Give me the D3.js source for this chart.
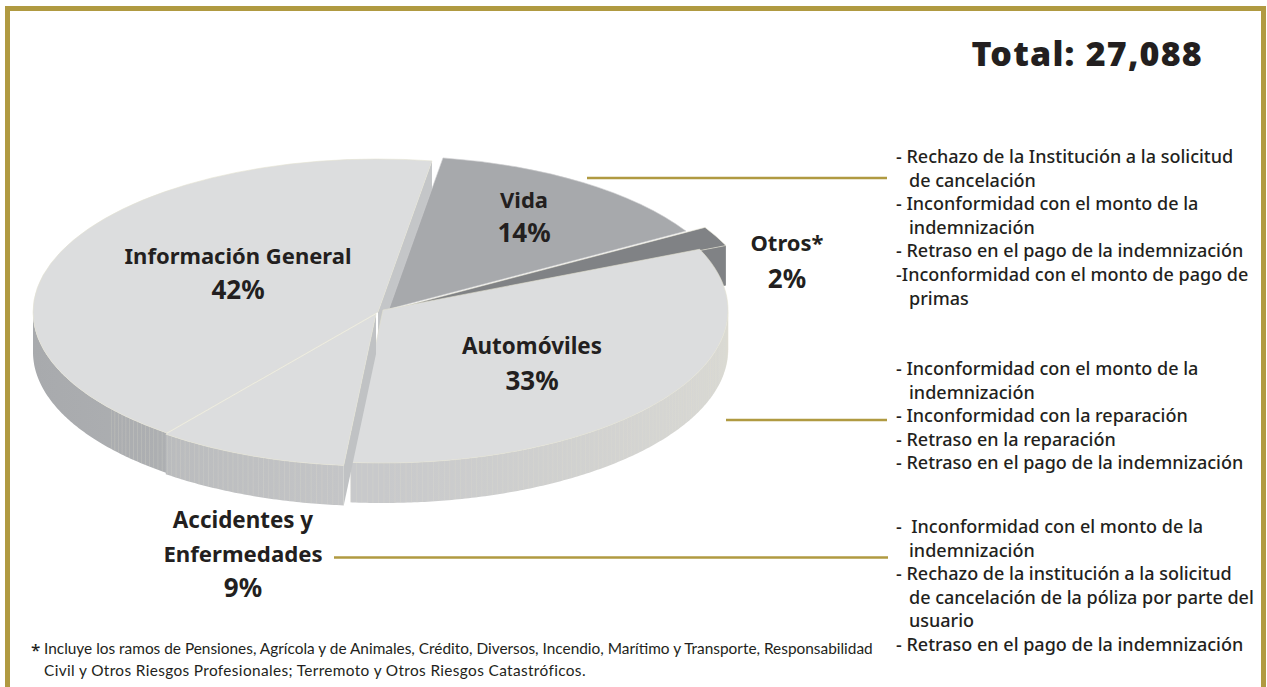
<!DOCTYPE html>
<html>
<head>
<meta charset="utf-8">
<script src="https://cdn.jsdelivr.net/npm/d3@7"></script>
<style>
html, body { margin: 0; padding: 0; background: #fff; overflow: hidden; }
svg { display: block; }
text { font-family: "Noto Sans", Lato, sans-serif; fill: #231f20; white-space: pre; }
</style>
</head>
<body>
<svg id="chart" width="1267" height="687"></svg>
<script>
// values, in drawing order round the pie
const categories = ['Información General', 'Vida', 'Otros*', 'Automóviles', 'Accidentes y Enfermedades'];
const shares = [42, 14, 2, 33, 9];

const totalLabel = 'Total: 27,088';

const vidaReasons = [
    '- Rechazo de la Institución a la solicitud',
    '  de cancelación',
    '- Inconformidad con el monto de la',
    '  indemnización',
    '- Retraso en el pago de la indemnización',
    '-Inconformidad con el monto de pago de',
    '  primas'
];
const autoReasons = [
    '- Inconformidad con el monto de la',
    '  indemnización',
    '- Inconformidad con la reparación',
    '- Retraso en la reparación',
    '- Retraso en el pago de la indemnización'
];
const accidentReasons = [
    '-  Inconformidad con el monto de la',
    '  indemnización',
    '- Rechazo de la institución a la solicitud',
    '  de cancelación de la póliza por parte del',
    '  usuario',
    '- Retraso en el pago de la indemnización'
];
const footnote = [
    'Incluye los ramos de Pensiones, Agrícola y de Animales, Crédito, Diversos, Incendio, Marítimo y Transporte, Responsabilidad',
    'Civil y Otros Riesgos Profesionales; Terremoto y Otros Riesgos Catastróficos.'
];

const GOLD = '#b09a41';
const CREAM = '#e4e2d2';
const DEPTH = 40;
const SQUASH = 153 / 345;

// each slice is pulled away from the middle a bit, like the 3d original
const sliceStyle = {
    'Información General': {cx: 378, cy: 312, r: 345, top: '#dcddde', wall: ['#a8aaad', '#b6b8ba'], side: '#c4c6c8', stripeFrom: 108},
    'Vida': {cx: 389, cy: 309, r: 345, top: '#a7a9ac', wall: ['#a7a9ac', '#a7a9ac'], side: '#a7a9ac', stripeFrom: 0},
    'Otros*': {cx: 390, cy: 310, r: 366, top: '#808285', wall: ['#808285', '#808285'], side: '#808285', stripeFrom: 0},
    'Automóviles': {cx: 383, cy: 310, r: 345, top: '#dcddde', wall: ['#c8c9cb', '#d8d8d4'], side: '#c4c6c8', stripeFrom: 0},
    'Accidentes y Enfermedades': {cx: 376, cy: 314, r: 343, top: '#dcddde', wall: ['#b2b4b6', '#c6c7c9'], side: '#c0c2c4', stripeFrom: 0}
};

const svg = d3.select('#chart');

// gold frame, runs off the bottom of the page
svg.append('rect')
    .attr('x', 7.5).attr('y', 8.5)
    .attr('width', 1256).attr('height', 700)
    .attr('fill', 'none')
    .attr('stroke', GOLD)
    .attr('stroke-width', 5);

const startAngle = -142.2 * Math.PI / 180;
const pie = d3.pie()
    .sort(null)
    .startAngle(startAngle)
    .endAngle(startAngle + 2 * Math.PI);
const slices = pie(shares).map(function(d, i){
    return Object.assign({name: categories[i]}, d, sliceStyle[categories[i]]);
});
const byName = name => slices.find(s => s.name === name);

const defs = svg.append('defs');
slices.forEach(function(s, i){
    let isRight = s.name === 'Automóviles';
    let grad = defs.append('linearGradient')
        .attr('id', 'wall' + i)
        .attr('gradientUnits', 'userSpaceOnUse')
        .attr('x1', isRight ? s.cx : s.cx - s.r).attr('x2', isRight ? s.cx + s.r : s.cx)
        .attr('y1', 0).attr('y2', 0);
    grad.append('stop').attr('offset', 0).attr('stop-color', s.wall[0]);
    grad.append('stop').attr('offset', 1).attr('stop-color', s.wall[1]);
});

function rimPoint(s, a){
    return [s.cx + s.r * Math.sin(a), s.cy - s.r * SQUASH * Math.cos(a)];
}

const line = d3.line();

// the flat cut side of a slice at angle a
function drawCut(s, a){
    let p = rimPoint(s, a);
    svg.append('path')
        .attr('d', line([[s.cx, s.cy], p, [p[0], p[1] + DEPTH], [s.cx, s.cy + DEPTH]]) + 'Z')
        .attr('fill', s.side);
}

// the curved outer wall, only the part facing us
function drawWall(s, a0, a1){
    let angles = d3.range(a0, a1, 0.01).concat([a1]);
    let rim = angles.map(a => rimPoint(s, a));
    let lower = rim.map(p => [p[0], p[1] + DEPTH]).reverse();
    svg.append('path')
        .attr('d', line(rim.concat(lower)) + 'Z')
        .attr('fill', 'url(#wall' + slices.indexOf(s) + ')');
    // faint vertical seams
    let seams = d3.range(a0, a1, 0.016).map(a => rimPoint(s, a)).filter(p => p[0] > s.stripeFrom);
    svg.append('g').selectAll('line')
        .data(seams)
        .enter()
        .append('line')
        .attr('x1', p => p[0]).attr('x2', p => p[0])
        .attr('y1', p => p[1]).attr('y2', p => p[1] + DEPTH)
        .attr('stroke', CREAM)
        .attr('stroke-width', 0.5)
        .attr('opacity', 0.45);
}

const arc = d3.arc().innerRadius(0);
function drawTop(s){
    svg.append('path')
        .attr('d', arc.outerRadius(s.r)(s))
        .attr('transform', 'translate(' + s.cx + ',' + s.cy + ') scale(1,' + SQUASH + ')')
        .attr('fill', s.top)
        .attr('stroke', s.name === 'Vida' ? '#cfcfd0' : CREAM)
        .attr('stroke-width', 0.6)
        .attr('vector-effect', 'non-scaling-stroke');
}

const info = byName('Información General');
const vida = byName('Vida');
const otros = byName('Otros*');
const auto = byName('Automóviles');
const acc = byName('Accidentes y Enfermedades');

// painter's order, back to front
drawCut(info, info.endAngle);
drawTop(vida);
drawCut(otros, otros.endAngle);
drawTop(otros);
drawWall(info, info.startAngle + 2 * Math.PI, 1.5 * Math.PI);
drawTop(info);
drawWall(auto, Math.PI / 2, auto.endAngle);
drawTop(auto);
drawWall(acc, acc.startAngle, acc.endAngle);
drawCut(acc, acc.startAngle);
drawTop(acc);

// leader lines
function leader(x1, x2, y){
    svg.append('line')
        .attr('x1', x1).attr('x2', x2)
        .attr('y1', y).attr('y2', y)
        .attr('stroke', GOLD)
        .attr('stroke-width', 2.5);
}
leader(587, 887, 178);
leader(726, 887, 420);
leader(334, 888, 557.5);

// bold labels, centred
function label(lines, x, y0, size){
    svg.append('g').selectAll('text')
        .data(lines)
        .enter()
        .append('text')
        .attr('x', x)
        .attr('y', (d, i) => y0[i])
        .attr('text-anchor', 'middle')
        .attr('font-size', (d, i) => size[i])
        .attr('font-weight', 700)
        .text(d => d);
}
const pct = shares.map(v => v + '%');
label([categories[0], pct[0]], 238, [264, 299], [22, 26]);
label([categories[1], pct[1]], 524, [208, 242], [22, 26]);
label([categories[2], pct[2]], 787, [251, 288], [22, 26]);
label([categories[3], pct[3]], 532, [354, 390], [22.4, 26]);
label(['Accidentes y', 'Enfermedades', pct[4]], 243, [528, 562, 597], [22.4, 22.2, 26]);

svg.append('text')
    .attr('x', 1203).attr('y', 66)
    .attr('text-anchor', 'end')
    .attr('font-size', 34)
    .attr('font-weight', 900)
    .attr('letter-spacing', 1.2)
    .text(totalLabel);

// reason lists on the right, two leading blanks mean the hanging indent
function reasons(lines, y0){
    svg.append('g').selectAll('text')
        .data(lines)
        .enter()
        .append('text')
        .attr('x', d => d.startsWith('  ') ? 909 : 896)
        .attr('y', (d, i) => y0 + i * 23.6)
        .attr('font-size', 18)
        .attr('font-weight', 500)
        .text(d => d.trim());
}
reasons(vidaReasons, 163);
reasons(autoReasons, 375);
reasons(accidentReasons, 533);

svg.append('text')
    .attr('x', 31).attr('y', 656)
    .attr('font-size', 17)
    .attr('font-weight', 500)
    .text('*');
svg.selectAll('.foot')
    .data(footnote)
    .enter()
    .append('text')
    .attr('class', 'foot')
    .attr('x', 44)
    .attr('y', (d, i) => 654 + i * 22)
    .style('font-family', 'Lato')
    .attr('font-size', 15.4)
    .attr('letter-spacing', (d, i) => i === 1 ? 0.36 : 0)
    .text(d => d);
</script>
</body>
</html>
